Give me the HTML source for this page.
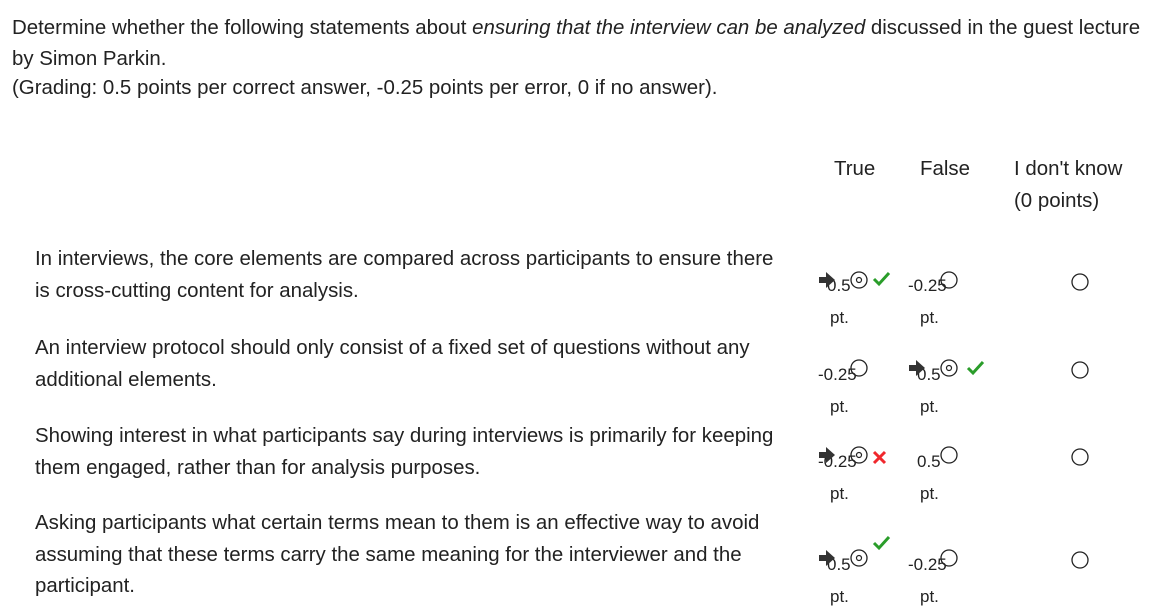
<!DOCTYPE html>
<html><head><meta charset="utf-8">
<style>
body{margin:0;width:1160px;height:612px;background:#fff;position:relative;overflow:hidden;font-family:"Liberation Sans",Arial,sans-serif;color:#222}
.t{position:absolute;line-height:1;white-space:nowrap;font-size:20.45px}
.c{position:absolute;line-height:1;white-space:nowrap;font-size:17px}
svg{position:absolute;left:0;top:0}
</style></head><body>
<div class="t" style="left:12px;top:18px">Determine whether the following statements about <i>ensuring that the interview can be analyzed</i> discussed in the guest lecture</div>
<div class="t" style="left:12px;top:49px">by Simon Parkin.</div>
<div class="t" style="left:12px;top:78px">(Grading: 0.5 points per correct answer, -0.25 points per error, 0 if no answer).</div>

<div class="t" style="left:834px;top:159px">True</div>
<div class="t" style="left:920px;top:159px">False</div>
<div class="t" style="left:1014px;top:159px">I don't know</div>
<div class="t" style="left:1014px;top:191px">(0 points)</div>

<div class="t" style="left:35px;top:243px;line-height:32px;white-space:normal;width:780px">In interviews, the core elements are compared across participants to ensure there<br>is cross-cutting content for analysis.</div>
<div class="t" style="left:35px;top:332px;line-height:32px;white-space:normal;width:780px">An interview protocol should only consist of a fixed set of questions without any<br>additional elements.</div>
<div class="t" style="left:35px;top:420px;line-height:32px;white-space:normal;width:780px">Showing interest in what participants say during interviews is primarily for keeping<br>them engaged, rather than for analysis purposes.</div>
<div class="t" style="left:35px;top:507px;line-height:31.5px;white-space:normal;width:780px">Asking participants what certain terms mean to them is an effective way to avoid<br>assuming that these terms carry the same meaning for the interviewer and the<br>participant.</div>

<div id="cells"></div>
<svg id="marks" width="1160" height="612"></svg>

<script>
const rowNumBase=[291,380,467,570];
const rowCircY=[280,368,455,558];
const trueVals=['0.5','-0.25','-0.25','0.5'];
const falseVals=['-0.25','0.5','0.5','-0.25'];
const selected=['true','false','true','true'];
const marks=[['check',872,272],['check',966,361],['cross',872,451],['check',872,536]];
const cells=document.getElementById('cells');
const svg=document.getElementById('marks');
const NS='http://www.w3.org/2000/svg';
function txt(x,top,s,name){const d=document.createElement('div');d.className='c';d.style.left=x+'px';d.style.top=top+'px';d.textContent=s;


cells.appendChild(d);}
function el(tag,attrs){const e=document.createElementNS(NS,tag);for(const k in attrs)e.setAttribute(k,attrs[k]);svg.appendChild(e);return e;}
for(let i=0;i<4;i++){
  const b=rowNumBase[i]-14.4, cy=rowCircY[i];
  txt(trueVals[i].startsWith('-')?818:827,b,trueVals[i],'true-points');
  txt(falseVals[i].startsWith('-')?908:917,b,falseVals[i],'false-points');
  txt(830,b+32,'pt.','true-pt-unit');
  txt(920,b+32,'pt.','false-pt-unit');
  const xs=[859,949,1080];
  for(let j=0;j<3;j++){
    const c=el('circle',{cx:xs[j],cy:(j==2?cy+2:cy),r:8,fill:'none',stroke:'#222','stroke-width':1.3});
    
    
    const sel=(selected[i]=='true'&&j==0)||(selected[i]=='false'&&j==1);
    if(sel){el('circle',{cx:xs[j],cy:cy,r:2.5,fill:'none',stroke:'#222','stroke-width':1.2});
      const ax=xs[j]-40;
      const a=el('path',{d:`M${ax} ${cy-3} h7 v-5 l9 8 l-9 8 v-5 h-7 z`,fill:'#333'});
      
      
    }
  }
  const m=marks[i];
  if(m[0]=='check'){const p=el('path',{d:`M${m[1]+2} ${m[2]+7} l5 5 l10 -11`,fill:'none',stroke:'#2a9d2a','stroke-width':3});
    
    }
  else{const p=el('path',{d:`M${m[1]+2} ${m[2]+1} l11 11 M${m[1]+13} ${m[2]+1} l-11 11`,fill:'none',stroke:'#f0282d','stroke-width':3});
    
    }
}
</script>
</body></html>
